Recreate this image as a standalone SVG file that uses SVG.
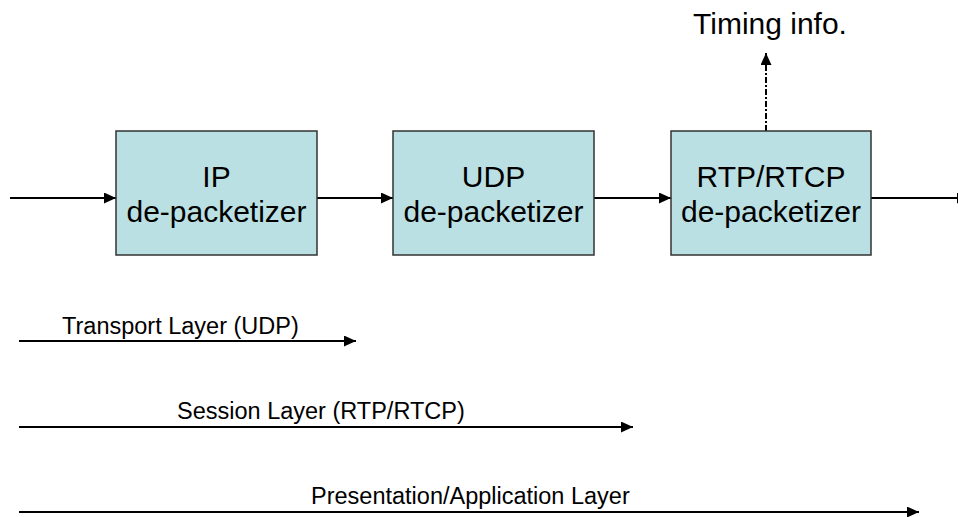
<svg xmlns="http://www.w3.org/2000/svg" width="958" height="517" viewBox="0 0 958 517">
  <style>
    .box { fill: #BBE0E3; stroke: #333333; stroke-width: 1.5; }
    .lbl { font-family: "Liberation Sans", Arial, sans-serif; font-size: 30px; fill: #000; text-anchor: middle; }
    .layer { font-family: "Liberation Sans", Arial, sans-serif; font-size: 23.5px; fill: #000; }
    .conn { stroke: #000; stroke-width: 2; fill: none; marker-end: url(#ah); }
    .dash { stroke: #000; stroke-width: 2; fill: none; stroke-dasharray: 6 2 2 2; marker-end: url(#ah); }
  </style>
  <defs>
    <marker id="ah" markerUnits="userSpaceOnUse" markerWidth="12" markerHeight="11" refX="12" refY="5.5" orient="auto" viewBox="0 0 12 11">
      <path d="M0,0 L12,5.5 L0,11 z" fill="#000"/>
    </marker>
  </defs>
  <rect width="958" height="517" fill="#fff"/>

  <g id="connectors">
    <line class="conn" x1="10" y1="198" x2="116" y2="198"/>
    <line class="conn" x1="317" y1="198" x2="393" y2="198"/>
    <line class="conn" x1="594" y1="198" x2="671" y2="198"/>
    <line class="conn" x1="871" y1="198" x2="969" y2="198"/>
    <line class="dash" x1="766" y1="131" x2="766" y2="53"/>
    <line class="conn" x1="19" y1="341" x2="356" y2="341"/>
    <line class="conn" x1="19" y1="427" x2="633" y2="427"/>
    <line class="conn" x1="19" y1="512" x2="919" y2="512"/>
  </g>

  <g id="ip">
    <rect class="box" x="116" y="131" width="201" height="124"/>
    <text class="lbl" x="216.5" y="187">IP</text>
    <text class="lbl" x="216.5" y="222">de-packetizer</text>
  </g>
  <g id="udp">
    <rect class="box" x="393" y="131" width="201" height="124"/>
    <text class="lbl" x="493.5" y="187">UDP</text>
    <text class="lbl" x="493.5" y="222">de-packetizer</text>
  </g>
  <g id="rtp">
    <rect class="box" x="671" y="131" width="200" height="124"/>
    <text class="lbl" x="771" y="187">RTP/RTCP</text>
    <text class="lbl" x="771" y="222">de-packetizer</text>
  </g>
  <g id="timing">
    <text class="lbl" x="770" y="34">Timing info.</text>
  </g>
  <g id="layers">
    <text class="layer" x="62" y="334">Transport Layer (UDP)</text>
    <text class="layer" x="177" y="419">Session Layer (RTP/RTCP)</text>
    <text class="layer" x="311" y="504">Presentation/Application Layer</text>
  </g>
</svg>
